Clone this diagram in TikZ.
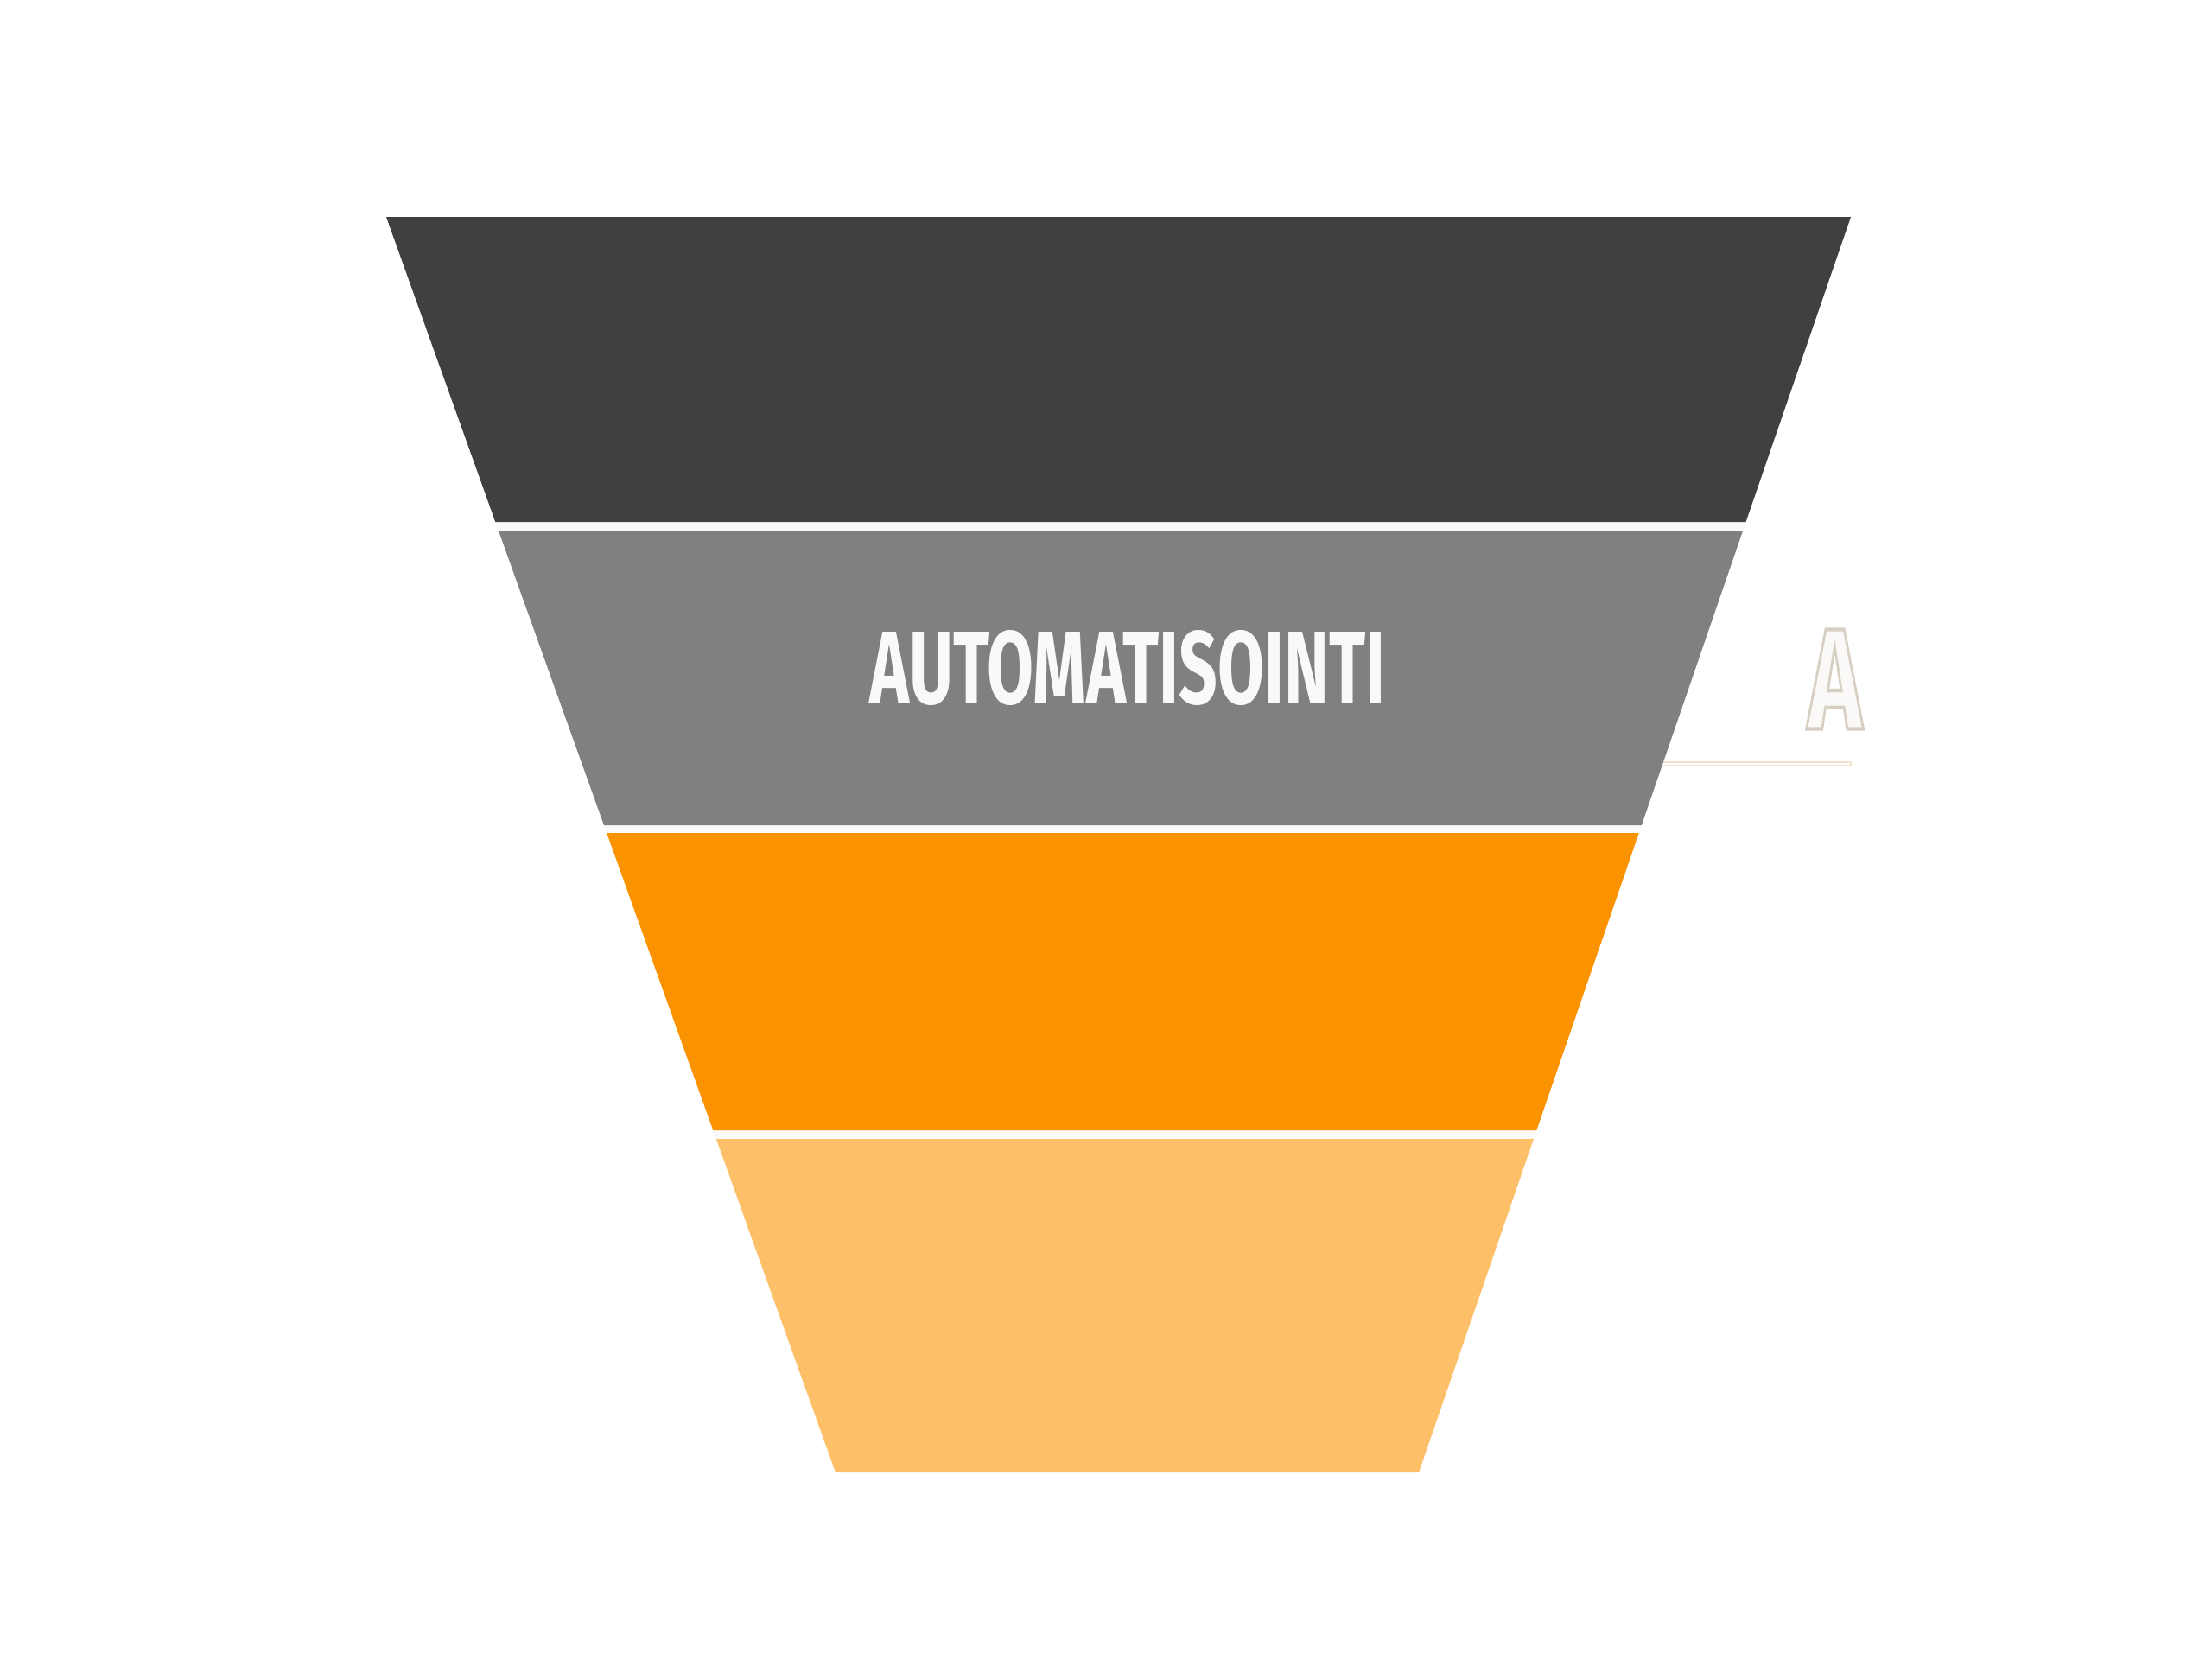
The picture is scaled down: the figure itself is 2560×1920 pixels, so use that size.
\documentclass[tikz,border=0pt]{standalone}
\usepackage{fontspec}
\setmainfont{Fira Sans}
\definecolor{bandDark}{HTML}{404040}
\definecolor{bandGray}{HTML}{808080}
\definecolor{bandOrange}{HTML}{FB9300}
\definecolor{bandLight}{HTML}{FEBF69}
\definecolor{gapCol}{HTML}{FAF9F7}
\definecolor{txtCol}{HTML}{FAF9F7}
\definecolor{beigeLine}{HTML}{F2E2CB}
\tikzset{
  lbl/.style={inner sep=0pt, text=txtCol, font=\bfseries},
  band/.style={draw=none},
}
\newcommand{\outlinedtext}[1]{\special{pdf:literal 2 Tr 0.25 w 0.84 0.81 0.76 RG}#1\special{pdf:literal 0 Tr}}
\begin{document}
\begin{tikzpicture}[x=0.01cm,y=-0.01cm]
\useasboundingbox (0,0) rectangle (2560,1920);
\fill[white] (0,0) rectangle (2560,1920);
% thin line at right
\draw[beigeLine, line width=0.7pt, fill=white] (1900,882) rectangle (2142,886);
% funnel outline (gaps colour)
\fill[gapCol] (447,251) -- (2142,251) -- (1642,1704) -- (967,1704) -- cycle;
% bands
\fill[band, bandDark]   (447,251)   -- (2142,251)   -- (2020.5,604) -- (573.3,604) -- cycle;
\fill[band, bandGray]   (576.9,614) -- (2017.1,614) -- (1899.8,955) -- (699.0,955) -- cycle;
\fill[band, bandOrange] (702.2,964) -- (1896.7,964) -- (1778.3,1308) -- (825.3,1308) -- cycle;
\fill[band, bandLight]  (828.9,1318) -- (1774.9,1318) -- (1642,1704) -- (967,1704) -- cycle;
% labels
\node[lbl] (auto) at (1305,772.5) {\resizebox{5.96cm}{0.85cm}{\bfseries AUTOMATISOINTI}};
\node[lbl] (sideA) at (2123.5,786) {\resizebox{0.63cm}{1.15cm}{\bfseries\outlinedtext{A}}};
\end{tikzpicture}
\end{document}
